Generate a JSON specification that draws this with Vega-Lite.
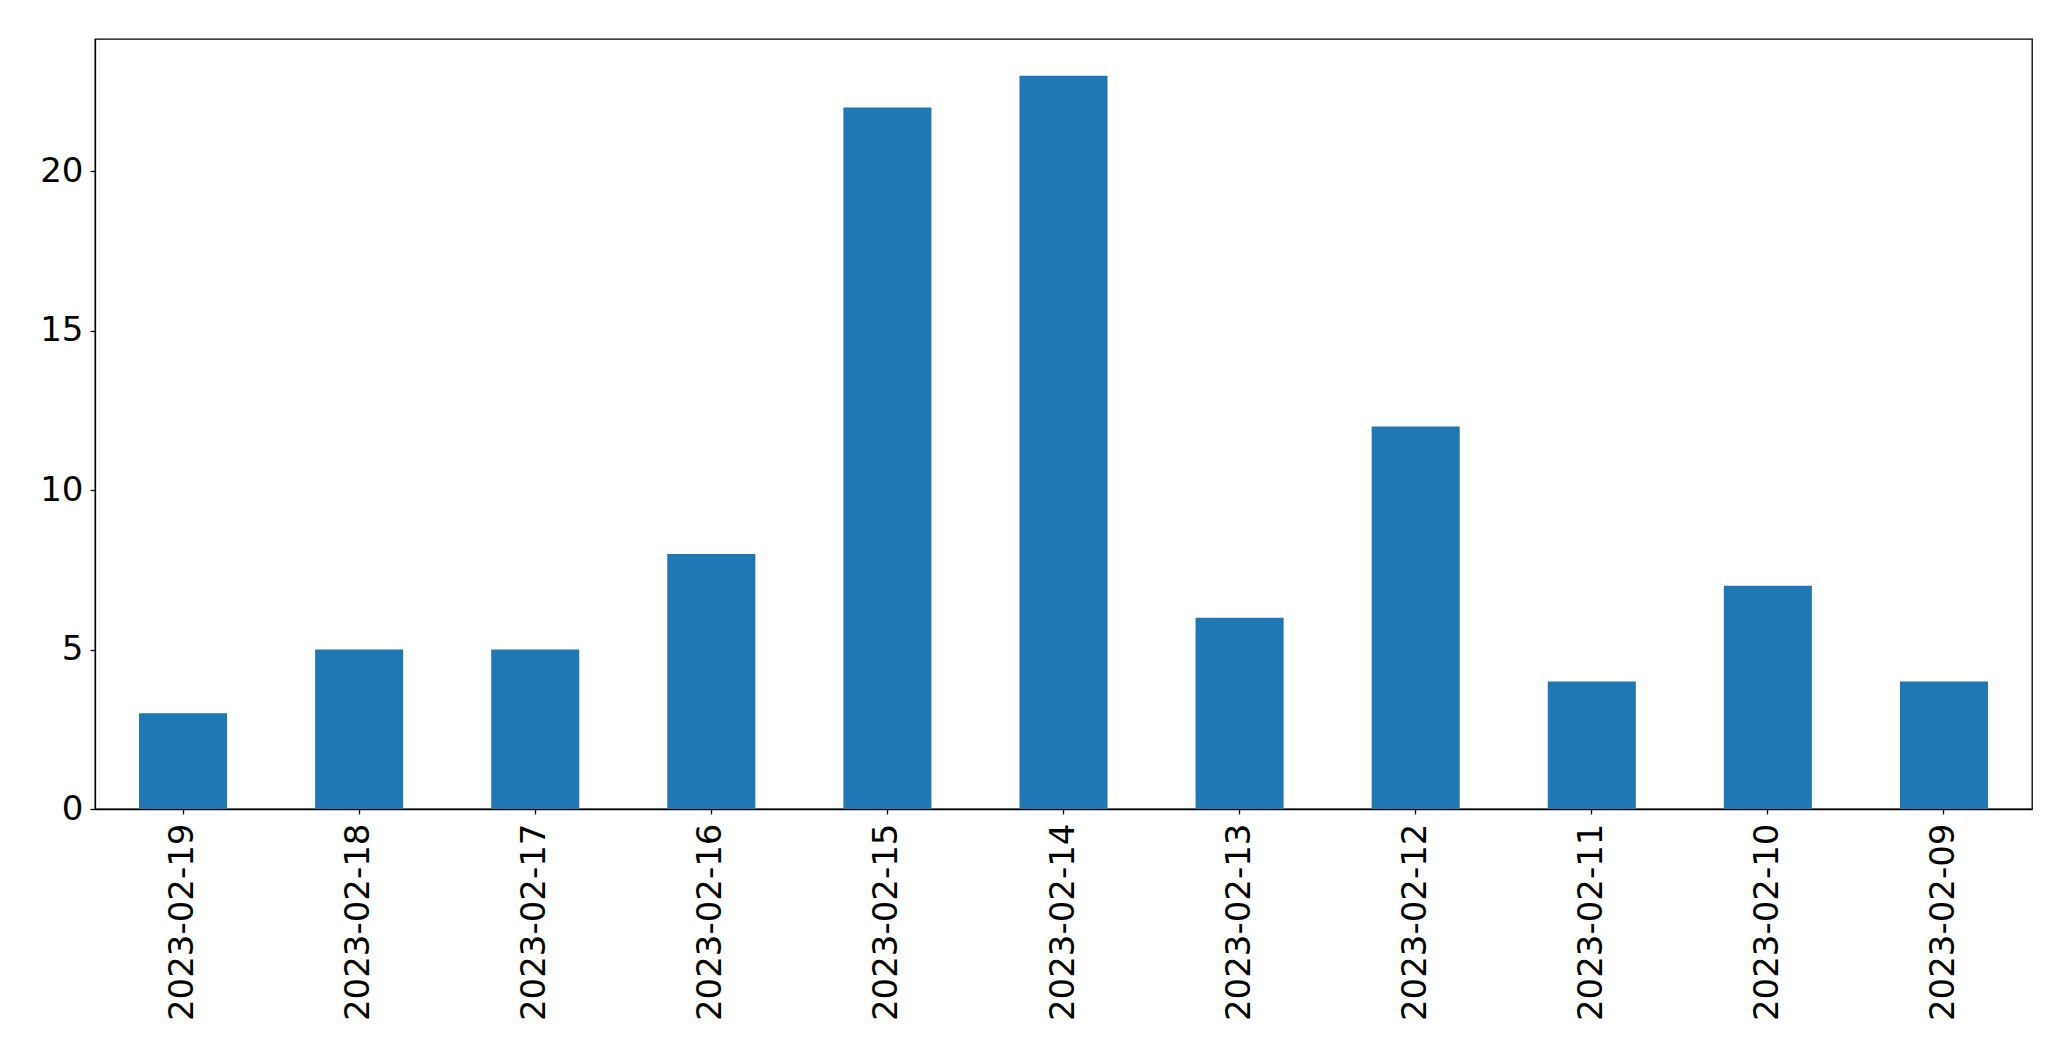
{
  "$schema": "https://vega.github.io/schema/vega-lite/v6.json",
  "autosize": "none",
  "width": 1937,
  "height": 770,
  "padding": {"left": 95, "top": 39, "right": 39, "bottom": 252},
  "background": "white",
  "config": {
    "view": {"stroke": "black", "strokeWidth": 1.3},
    "font": "DejaVu Sans"
  },
  "data": {
    "values": [
      {"date": "2023-02-19", "count": 3},
      {"date": "2023-02-18", "count": 5},
      {"date": "2023-02-17", "count": 5},
      {"date": "2023-02-16", "count": 8},
      {"date": "2023-02-15", "count": 22},
      {"date": "2023-02-14", "count": 23},
      {"date": "2023-02-13", "count": 6},
      {"date": "2023-02-12", "count": 12},
      {"date": "2023-02-11", "count": 4},
      {"date": "2023-02-10", "count": 7},
      {"date": "2023-02-09", "count": 4}
    ]
  },
  "mark": {"type": "bar", "color": "#1f77b4"},
  "encoding": {
    "x": {
      "field": "date",
      "type": "nominal",
      "sort": null,
      "scale": {"paddingInner": 0.5, "paddingOuter": 0.25},
      "axis": {
        "title": null,
        "labelAngle": -90,
        "labelFontSize": 34,
        "labelFont": "DejaVu Sans",
        "labelColor": "black",
        "labelPadding": 9,
        "labelLimit": 0,
        "tickColor": "black",
        "tickSize": 5,
        "tickWidth": 1.3,
        "domainColor": "black",
        "domainWidth": 1.3,
        "grid": false
      }
    },
    "y": {
      "field": "count",
      "type": "quantitative",
      "scale": {"domain": [0, 24.15], "nice": false},
      "axis": {
        "title": null,
        "values": [0, 5, 10, 15, 20],
        "labelFontSize": 34,
        "labelFont": "DejaVu Sans",
        "labelColor": "black",
        "labelPadding": 7,
        "tickColor": "black",
        "tickSize": 5,
        "tickWidth": 1.3,
        "domainColor": "black",
        "domainWidth": 1.3,
        "grid": false
      }
    }
  }
}
